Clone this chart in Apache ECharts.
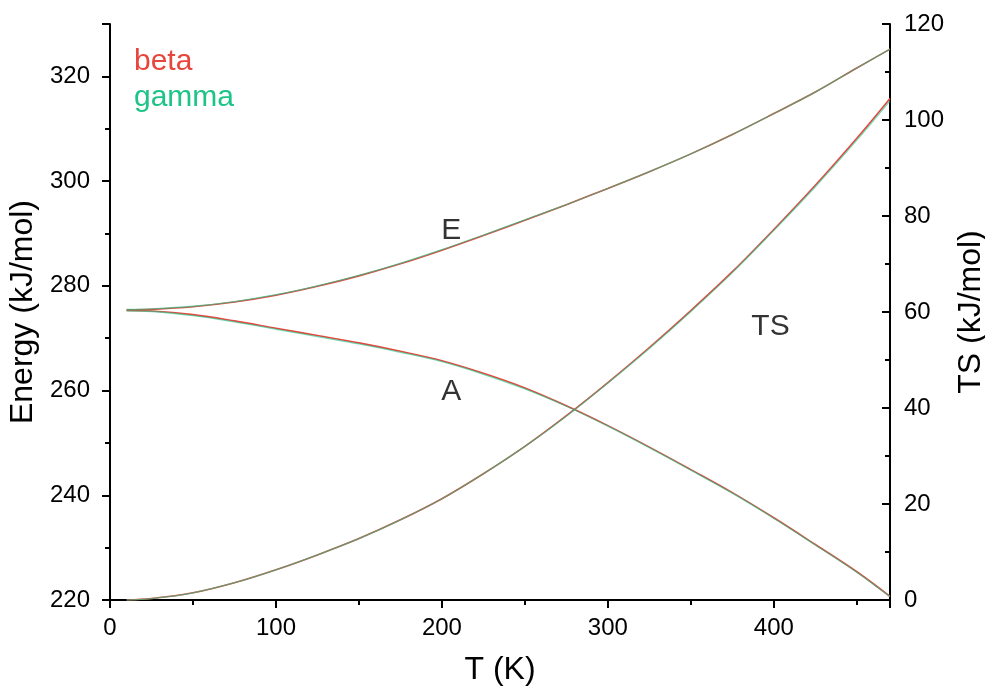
<!DOCTYPE html>
<html>
<head>
<meta charset="utf-8">
<script src="https://cdn.jsdelivr.net/npm/echarts@6/dist/echarts.min.js"></script>
<style>
html,body{margin:0;padding:0;background:#fff;}
#chart{width:985px;height:691px;}
</style>
</head>
<body>
<div id="chart"></div>
<script>
// Temperature grid (K)
var T = [10,25,50,75,100,125,150,175,200,225,250,275,300,325,350,375,400,425,450,470];
// beta series (kJ/mol)
var betaE  = [275.4,275.5,276.0,276.9,278.2,279.9,281.9,284.2,286.8,289.6,292.5,295.5,298.6,301.8,305.2,308.9,312.9,317.0,321.6,325.2];
var betaA  = [275.3,275.2,274.5,273.3,271.9,270.5,269.1,267.5,265.7,263.3,260.5,257.1,253.3,249.2,244.9,240.5,235.7,230.6,225.4,220.7];
var betaTS = [0.0,0.3,1.5,3.6,6.3,9.4,12.8,16.7,21.1,26.3,32.0,38.4,45.3,52.6,60.3,68.4,77.2,86.4,96.2,104.5];
// gamma series (kJ/mol)
var gammaE  = [275.5,275.6,276.1,277.0,278.3,280.0,282.0,284.3,286.9,289.7,292.6,295.5,298.6,301.8,305.2,308.9,312.9,317.0,321.6,325.2];
var gammaA  = [275.2,275.1,274.3,273.1,271.7,270.3,268.9,267.3,265.5,263.1,260.3,257.0,253.2,249.1,244.8,240.4,235.6,230.5,225.3,220.6];
var gammaTS = [0.0,0.3,1.5,3.6,6.3,9.4,12.8,16.7,21.1,26.3,32.0,38.3,45.2,52.4,60.1,68.2,77.0,86.1,95.8,104.0];
// curve annotations: text, T, value, axis index
var noteText = ['E','A','TS'];
var noteT    = [205.7,205.7,398];
var noteV    = [290.6,259.7,56.9];
var noteAxis = [0,0,1];

var RED = '#e8453c', GREEN = '#1dc487';
var FONT = 'Liberation Sans, Arial, sans-serif';

function pairs(x, y){ return x.map(function(t,i){ return [t, y[i]]; }); }
function line(name, data, yIdx, color, width, opacity, z){
  return {name:name, type:'line', xAxisIndex:0, yAxisIndex:yIdx, data:pairs(T,data),
    showSymbol:false, smooth:0.35, z:z, animation:false,
    lineStyle:{color:color, width:width, opacity:opacity}, itemStyle:{color:color}};
}
var series = [
  line('beta', betaE, 0, RED, 1.6, 1, 2),
  line('beta', betaA, 0, RED, 1.6, 1, 2),
  line('beta', betaTS, 1, RED, 1.6, 1, 2),
  line('gamma', gammaE, 0, GREEN, 1.3, 0.62, 3),
  line('gamma', gammaA, 0, GREEN, 1.3, 0.62, 3),
  line('gamma', gammaTS, 1, GREEN, 1.3, 0.62, 3)
];
[0,1].forEach(function(ax){
  var d = [];
  noteText.forEach(function(t,i){ if(noteAxis[i]===ax) d.push({value:[noteT[i], noteV[i]], name:t}); });
  series.push({type:'scatter', yAxisIndex:ax, data:d, symbolSize:0, silent:true, animation:false, z:5,
    label:{show:true, position:'inside', formatter:'{b}', color:'#000', fontSize:30, fontFamily:FONT}});
});

var axisCommon = {
  axisLine:{show:true, lineStyle:{color:'#000', width:2}},
  axisTick:{show:true, length:8, lineStyle:{color:'#000', width:2}},
  minorTick:{show:true, splitNumber:2, length:5, lineStyle:{color:'#000', width:2}},
  splitLine:{show:false},
  axisLabel:{color:'#000', fontSize:24, fontFamily:FONT},
  nameTextStyle:{color:'#000', fontSize:32, fontFamily:FONT}
};
function ax(extra){ return echarts.util.merge(JSON.parse(JSON.stringify(axisCommon)), extra, true); }

var option = {
  backgroundColor:'#fff',
  animation:false,
  grid:{left:110, right:95, top:24, bottom:91, containLabel:false, outerBoundsMode:'none'},
  legend:{
    orient:'vertical', left:128, top:47, itemWidth:0, itemHeight:0, itemGap:6,
    padding:0, selectedMode:false,
    textStyle:{fontSize:30, fontFamily:FONT},
    data:[{name:'beta', textStyle:{color:RED}}, {name:'gamma', textStyle:{color:GREEN}}]
  },
  xAxis: ax({type:'value', min:0, max:470, interval:100,
    name:'T (K)', nameLocation:'middle', nameGap:54,
    axisLabel:{margin:16, showMaxLabel:false}}),
  yAxis:[
    ax({type:'value', min:220, max:330, interval:20, position:'left',
      name:'Energy (kJ/mol)', nameLocation:'middle', nameGap:69, nameRotate:90,
      axisLabel:{margin:20, showMaxLabel:false}}),
    ax({type:'value', min:0, max:120, interval:20, position:'right',
      name:'TS (kJ/mol)', nameLocation:'middle', nameGap:63, nameRotate:90,
      axisTick:{inside:true}, minorTick:{show:true},
      axisLabel:{margin:14}})
  ],
  series: series
};
var chart = echarts.init(document.getElementById('chart'), null, {renderer:'canvas'});
chart.setOption(option);
</script>
</body>
</html>
